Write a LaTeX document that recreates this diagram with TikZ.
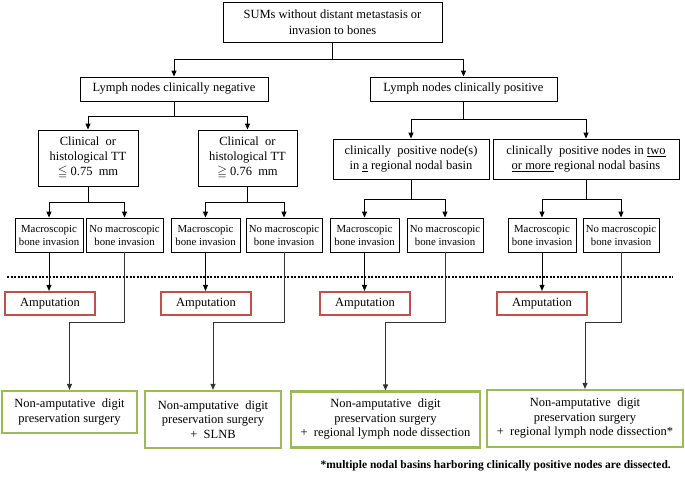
\documentclass[tikz,border=0pt]{standalone}
\usepackage{fontspec}
\setmainfont{Liberation Serif}
\usepackage{amssymb}
\usetikzlibrary{arrows.meta}
\definecolor{ampred}{HTML}{C0504D}
\definecolor{dpsgreen}{HTML}{9BBB59}
\tikzset{
  box/.style={draw,line width=0.9pt,align=center,inner sep=0pt,font=\fontsize{12.5}{15}\selectfont},
  smallbox/.style={draw,line width=0.9pt,align=center,inner sep=0pt,minimum width=#1,minimum height=34pt,font=\fontsize{10.8}{13}\selectfont},
  ampbox/.style={draw=ampred,line width=2.2pt,minimum width=90pt,minimum height=23pt,inner sep=0pt,font=\fontsize{12.5}{15}\selectfont},
  dpsbox/.style={draw=dpsgreen,line width=2.2pt,align=center,inner sep=0pt,font=\fontsize{12.5}{14.5}\selectfont},
  arr/.style={-{Triangle[length=6pt,width=5pt]},line width=0.9pt},
}
\begin{document}
\begin{tikzpicture}[x=1pt,y=-1pt]
\useasboundingbox (0,0) rectangle (685,480);
% top of the tree
\node[box,minimum width=219pt,minimum height=40pt,font=\fontsize{12.5}{16}\selectfont] (top) at (332.5,22) {SUMs without distant metastasis or\\invasion to bones};
\node[box,minimum width=188pt,minimum height=24pt] (neg) at (174,89) {Lymph nodes clinically negative};
\node[box,minimum width=187pt,minimum height=24pt] (pos) at (463.5,89) {Lymph nodes clinically positive};
\node[box,minimum width=100pt,minimum height=56pt] (cl1) at (88,158) {Clinical~~or\\histological TT\\$\leqq$ 0.75~~mm};
\node[box,minimum width=99pt,minimum height=56pt] (cl2) at (247.5,158) {Clinical~~or\\histological TT\\$\geqq$ 0.76~~mm};
\node[box,minimum width=156pt,minimum height=40pt] (pn1) at (411,159) {clinically~~positive node(s)\\in \underline{a} regional nodal basin};
\node[box,minimum width=186pt,minimum height=40pt] (pn2) at (586,159) {clinically~~positive nodes in \underline{two}\\\underline{or more~}regional nodal basins};
% bone invasion
\foreach \i/\xa/\wa/\xb/\wb in {1/49/68/124.5/77,2/205.5/69/284/76,3/364.5/69/445/76,4/542/68/621/76}{
  \node[smallbox=\wa pt] (mac\i) at (\xa,235) {Macroscopic\\bone invasion};
  \node[smallbox=\wb pt] (nomac\i) at (\xb,235) {No macroscopic\\bone invasion};
}
\draw[line width=2pt,dash pattern=on 2pt off 1.5pt] (7,277) -- (673,277);
\foreach \i/\x in {1/50,2/206,3/365,4/542}
  \node[ampbox] (amp\i) at (\x,303.5) {Amputation};
% surgery
\node[dpsbox,minimum width=135pt,minimum height=42pt] (dps1) at (69.5,412) {Non-amputative~~digit\\preservation surgery};
\node[dpsbox,minimum width=136pt,minimum height=57pt] (dps2) at (213,419.5) {Non-amputative~~digit\\preservation surgery\\+~~SLNB};
\node[dpsbox,minimum width=189pt,minimum height=56pt] (dps3) at (385.5,419.5) {Non-amputative~~digit\\preservation surgery\\+~~regional lymph node dissection};
\node[dpsbox,minimum width=196pt,minimum height=57pt] (dps4) at (585,418.5) {Non-amputative~~digit\\preservation surgery\\+~~regional lymph node dissection*};
\node[anchor=east,inner sep=0pt,font=\bfseries\fontsize{11.5}{13}\selectfont] (note) at (671,466) {*multiple nodal basins harboring clinically positive nodes are dissected.};
% connectors
\draw[arr] (top.south) -- ++(0,17) -| (neg.north);
\draw[arr] (top.south) -- ++(0,17) -| (pos.north);
\draw[arr] (neg.south) -- ++(0,15) -| (cl1.north);
\draw[arr] (neg.south) -- ++(0,15) -| (cl2.north);
\draw[arr] (pos.south) -- ++(0,18) -| (pn1.north);
\draw[arr] (pos.south) -- ++(0,18) -| (pn2.north);
\foreach \p/\i/\d in {cl1/1/16,cl2/2/16,pn1/3/20,pn2/4/20}{
  \draw[arr] (\p.south) -- ++(0,\d) -| (mac\i.north);
  \draw[arr] (\p.south) -- ++(0,\d) -| (nomac\i.north);
  \draw[arr] (mac\i.south) -- (mac\i.south |- amp\i.north);
  \draw[arr,black!80] (nomac\i.south) -- ++(0,70) -| (dps\i.north);
}
\end{tikzpicture}
\end{document}
